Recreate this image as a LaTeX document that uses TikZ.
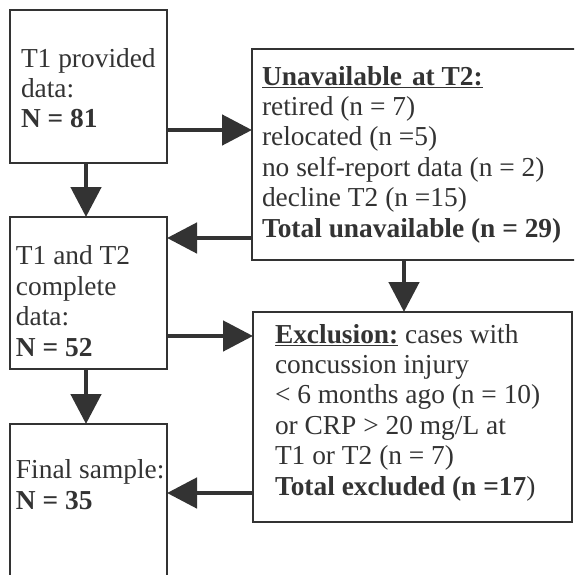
\documentclass[tikz,border=0pt]{standalone}
\usepackage{fontspec}
\setmainfont{Liberation Serif}
\usetikzlibrary{arrows.meta}
\definecolor{ink}{HTML}{333333}
\begin{document}
\begin{tikzpicture}[x=1pt,y=-1pt,
  box/.style={draw=ink, line width=2.5pt, inner sep=0pt, outer sep=0pt, rectangle, anchor=north west},
  txt/.style={text=ink, inner sep=0pt, outer sep=0pt, anchor=base west, align=left, font=\fontsize{27.4}{30.4}\selectfont},
  arr/.style={draw=ink, line width=4.8pt, -{Triangle[length=30pt,width=30pt]}}]
\useasboundingbox (0,0) rectangle (574,575);
\clip (0,0) rectangle (574,575);
% boxes
\node[box, minimum width=157pt, minimum height=153pt] (A) at (10,10) {};
\node[box, minimum width=348pt, minimum height=211pt] (B) at (252,49) {};
\node[box, minimum width=157pt, minimum height=152pt] (C) at (10,217) {};
\node[box, minimum width=157pt, minimum height=200pt] (D) at (10,424) {};
\node[box, minimum width=319pt, minimum height=210pt] (E) at (253,312) {};
% texts (anchored at the baseline of their last line)
\node[txt] (tA) at (21,128) {T1 provided\\data:\\\textbf{N = 81}};
\node[txt] (tB) at (262,237) {\textbf{\underline{Unavailable\hspace{10pt}at T2:}}\\retired (n = 7)\\relocated (n =5)\\no self-report data (n = 2)\\decline T2 (n =15)\\\textbf{Total unavailable (n = 29)}};
\node[txt] (tC) at (16,356) {T1 and T2\\complete\\data:\\\textbf{N = 52}};
\node[txt] (tD) at (16,509) {Final sample:\\\textbf{N = 35}};
\node[txt] (tE) at (275,495) {\textbf{\underline{Exclusion:}} cases with\\concussion injury\\< 6 months ago (n = 10)\\or CRP > 20 mg/L at\\T1 or T2 (n = 7)\\\textbf{Total excluded (n =17})};
% arrows
\draw[arr] (A.east |- 0,130) -- (B.west |- 0,130);
\draw[arr] (A.south -| 86,0) -- (C.north -| 86,0);
\draw[arr] (B.west |- 0,238) -- (C.east |- 0,238);
\draw[arr] (B.south -| 404,0) -- (E.north -| 404,0);
\draw[arr] (C.east |- 0,336) -- (E.west |- 0,336);
\draw[arr] (C.south -| 86,0) -- (D.north -| 86,0);
\draw[arr] (E.west |- 0,493) -- (D.east |- 0,493);
\end{tikzpicture}
\end{document}
